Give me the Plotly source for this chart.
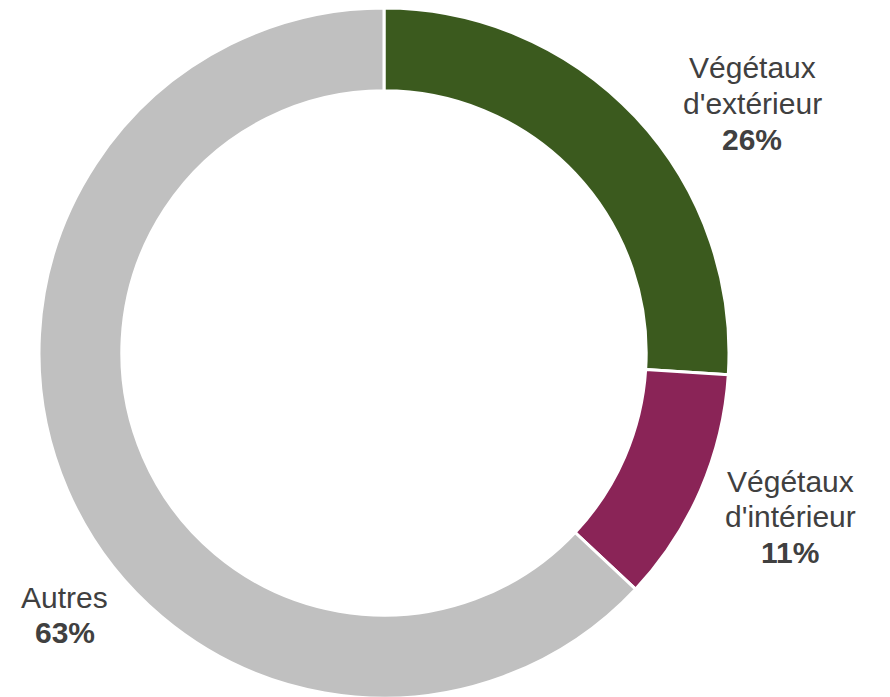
import plotly.graph_objects as go

labels = ["Végétaux d'extérieur", "Végétaux d'intérieur", "Autres"]
values = [26, 11, 63]
colors = ["#3b5a1e", "#8a2457", "#c0c0c0"]
label_lines = [["Végétaux", "d'extérieur"], ["Végétaux", "d'intérieur"], ["Autres"]]
pct_text = ["26%", "11%", "63%"]

W, H = 890, 697
OFF = 8  # page body margin offset

fig = go.Figure(go.Pie(
    labels=labels,
    values=values,
    hole=0.76,
    sort=False,
    direction="clockwise",
    rotation=0,
    marker=dict(colors=colors, line=dict(color="white", width=3)),
    textinfo="none",
    hoverinfo="label+percent",
    showlegend=False,
    domain=dict(x=[(384 - OFF - 345) / W, (384 - OFF + 345) / W], y=[7 / H, 1]),
))

# label block placement (page pixel centre x, first-line centre y)
blocks = [(752, 68), (790, 481), (65, 597)]
line_h = 35.5
font_family = "Liberation Sans, Arial, sans-serif"
annotations = []
for (cx, cy), lines, pct in zip(blocks, label_lines, pct_text):
    for i, t in enumerate(lines + [pct]):
        bold = (i == len(lines))
        annotations.append(dict(
            x=(cx - OFF) / W, y=1 - (cy - OFF + i * line_h) / H,
            xref="paper", yref="paper",
            text=f"<b>{t}</b>" if bold else t, showarrow=False,
            xanchor="center", yanchor="middle",
            font=dict(family=font_family, size=30, color="#404040"),
        ))

fig.update_layout(
    width=W, height=H,
    margin=dict(l=0, r=0, t=0, b=0),
    paper_bgcolor="white", plot_bgcolor="white",
    annotations=annotations,
)

fig.write_html("out.html")
